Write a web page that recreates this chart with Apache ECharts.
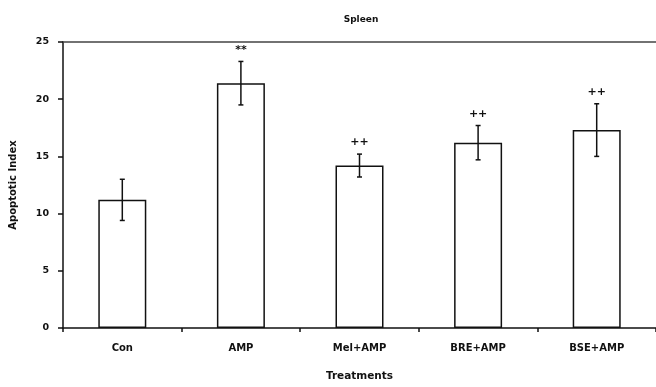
<!DOCTYPE html>
<html>
<head>
<meta charset="utf-8">
<script src="https://cdn.jsdelivr.net/npm/echarts@6/dist/echarts.min.js"></script>
<style>html,body{margin:0;padding:0;background:#fff}#c{width:656px;height:387px}</style>
</head>
<body>
<div id="c"></div>
<script>
const categories = ['Con', 'AMP', 'Mel+AMP', 'BRE+AMP', 'BSE+AMP'];
const means = [11.2, 21.4, 14.2, 16.2, 17.3];
const errors = [1.8, 1.9, 1.0, 1.5, 2.3];
const marks = ['', '**', '++', '++', '++'];
const yTicks = [0, 5, 10, 15, 20, 25];

const chart = echarts.init(document.getElementById('c'), null, {renderer: 'canvas'});
const font = '"DejaVu Sans", Verdana, sans-serif';
const errData = categories.map((c, i) => [i, means[i], errors[i], marks[i]]);
const txt = (size) => ({fontFamily: font, fontSize: size, fontWeight: 'bold', color: '#111'});

chart.setOption({
  animation: false,
  title: {
    text: 'Spleen', left: 356, top: 10, textAlign: 'center',
    textStyle: txt(9)
  },
  grid: {left: 62, top: 42, width: 598, height: 291.5},
  xAxis: [{
    type: 'category', data: categories,
    name: 'Treatments', nameLocation: 'middle', nameGap: 43,
    nameTextStyle: txt(10.5),
    axisLine: {lineStyle: {color: '#111', width: 1.5}},
    axisTick: {show: true, length: 4, lineStyle: {color: '#111', width: 1.5}},
    axisLabel: {margin: 15, ...txt(10)}
  }, {
    type: 'category', data: categories, position: 'top',
    axisLine: {show: true, lineStyle: {color: '#444', width: 1.5}},
    axisTick: {show: false}, axisLabel: {show: false}
  }],
  yAxis: {
    type: 'value', min: yTicks[0], max: yTicks[yTicks.length - 1], interval: 5,
    name: 'Apoptotic Index', nameLocation: 'middle', nameGap: 45, nameRotate: 90,
    nameTextStyle: txt(10),
    axisLine: {show: true, lineStyle: {color: '#111', width: 1.5}},
    axisTick: {show: true, length: 5, lineStyle: {color: '#111', width: 1.5}},
    axisLabel: {margin: 14, ...txt(9.5)},
    splitLine: {show: false}
  },
  series: [
    {
      type: 'bar', data: means, barWidth: 48,
      itemStyle: {color: '#fff', borderColor: '#111', borderWidth: 1.5}
    },
    {
      type: 'custom', data: errData, z: 10,
      renderItem: function (params, api) {
        const x = api.value(0), m = api.value(1), e = api.value(2);
        const top = api.coord([x, m + e]);
        const bot = api.coord([x, m - e]);
        const cap = 2.5;
        const mark = errData[params.dataIndex][3];
        const children = [
          {type: 'line', shape: {x1: top[0], y1: top[1], x2: bot[0], y2: bot[1]}, style: {stroke: '#111', lineWidth: 1.5}},
          {type: 'line', shape: {x1: top[0] - cap, y1: top[1], x2: top[0] + cap, y2: top[1]}, style: {stroke: '#111', lineWidth: 1.5}},
          {type: 'line', shape: {x1: bot[0] - cap, y1: bot[1], x2: bot[0] + cap, y2: bot[1]}, style: {stroke: '#111', lineWidth: 1.5}}
        ];
        if (mark) {
          children.push({type: 'text', x: top[0], y: top[1] - 6, style: {text: mark, textAlign: 'center', textVerticalAlign: 'bottom', font: 'bold 11px ' + font, fill: '#111'}});
        }
        return {type: 'group', children: children};
      }
    }
  ]
});
</script>
</body>
</html>
